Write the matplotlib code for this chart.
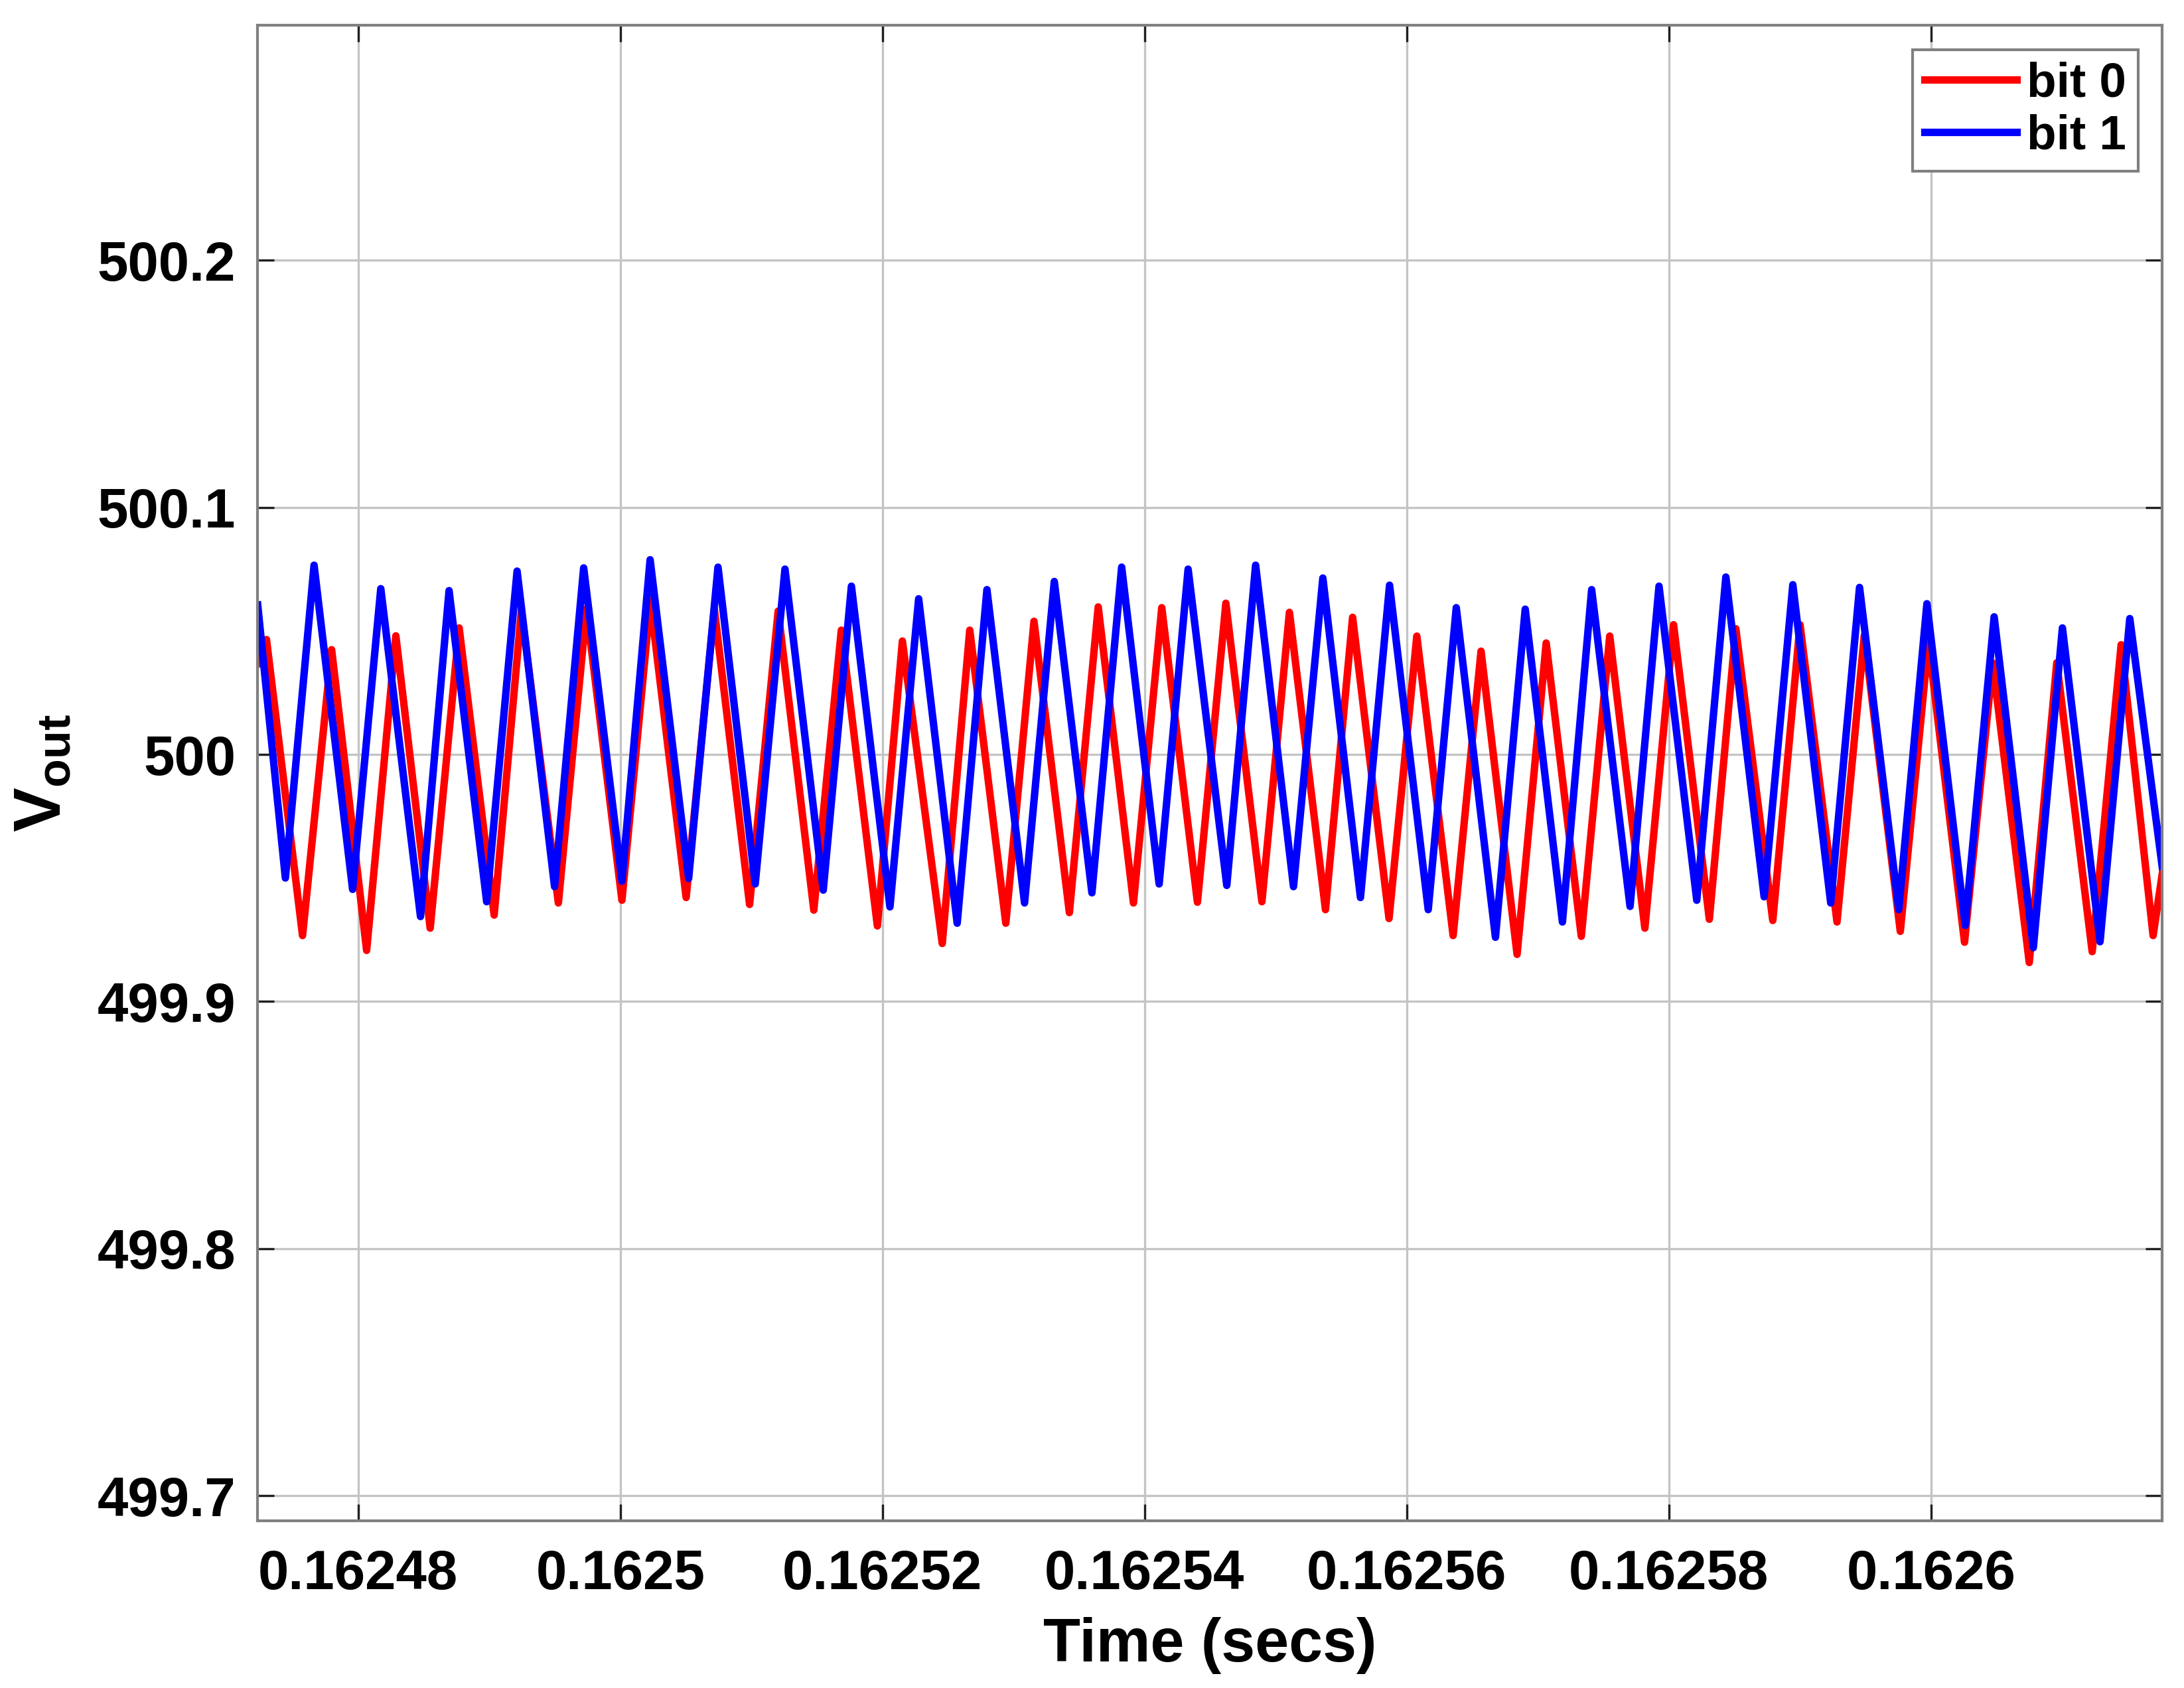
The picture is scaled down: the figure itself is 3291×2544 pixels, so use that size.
import matplotlib
matplotlib.use('Agg')
import matplotlib.pyplot as plt
import numpy as np

plt.rcParams.update({
    'font.family': ['Liberation Sans', 'DejaVu Sans'],
    'font.weight': 'bold',
    'font.size': 20,
    'mathtext.fontset': 'custom',
    'mathtext.rm': 'Liberation Sans:bold',
    'mathtext.bf': 'Liberation Sans:bold',
    'mathtext.it': 'Liberation Sans:bold',
})

# time offsets in microseconds from t0 (peaks and troughs)
t0 = 0.16248

bit0_t = [-7.67, -7.0, -4.25, -2.03, 0.64, 2.87, 5.49, 7.70, 10.37, 12.45,
          15.27, 17.42, 20.12, 22.29, 25.02, 27.17, 29.86, 32.04, 34.76, 36.86,
          39.61, 41.52, 44.56, 46.66, 49.41, 51.56, 54.26, 56.46, 59.15, 61.31,
          64.03, 66.20, 68.95, 71.05, 73.80, 75.87, 78.65, 80.77, 83.54, 85.67,
          88.42, 90.64, 93.32, 95.49, 98.17, 100.36, 103.09, 105.11, 107.93, 110.01,
          112.83, 114.91, 117.66, 119.81, 122.56, 124.71, 127.50, 129.60, 132.30, 134.51,
          136.95, 137.64]
bit0_v = [500.0370, 500.0465, 499.9267, 500.0424, 499.9207, 500.0480, 499.9297, 500.0512, 499.9350, 500.0583,
          499.9399, 500.0590, 499.9410, 500.0621, 499.9421, 500.0588, 499.9393, 500.0580, 499.9370, 500.0503,
          499.9306, 500.0459, 499.9235, 500.0503, 499.9317, 500.0539, 499.9360, 500.0597, 499.9399, 500.0594,
          499.9402, 500.0612, 499.9404, 500.0575, 499.9372, 500.0555, 499.9336, 500.0479, 499.9267, 500.0418,
          499.9191, 500.0451, 499.9264, 500.0479, 499.9297, 500.0525, 499.9333, 500.0509, 499.9328, 500.0525,
          499.9322, 500.0481, 499.9284, 500.0457, 499.9240, 500.0371, 499.9158, 500.0371, 499.9202, 500.0444,
          499.9267, 499.9514]

bit1_t = [-7.67, -5.56, -3.37, -0.43, 1.72, 4.75, 6.93, 9.80, 12.12, 14.98,
          17.20, 20.12, 22.27, 25.21, 27.45, 30.29, 32.56, 35.48, 37.63, 40.57,
          42.76, 45.70, 47.97, 50.84, 53.11, 55.98, 58.25, 61.11, 63.32, 66.27,
          68.47, 71.36, 73.60, 76.47, 78.69, 81.64, 83.78, 86.77, 89.04, 91.88,
          94.11, 97.04, 99.25, 102.13, 104.35, 107.27, 109.46, 112.35, 114.55, 117.54,
          119.69, 122.61, 124.82, 127.81, 130.03, 132.90, 135.17, 137.64]
bit1_v = [500.0605, 499.9500, 500.0766, 499.9454, 500.0671, 499.9344, 500.0663, 499.9404, 500.0742, 499.9465,
          500.0755, 499.9487, 500.0788, 499.9498, 500.0758, 499.9476, 500.0750, 499.9451, 500.0681, 499.9383,
          500.0630, 499.9317, 500.0667, 499.9399, 500.0700, 499.9440, 500.0758, 499.9476, 500.0750, 499.9470,
          500.0766, 499.9465, 500.0714, 499.9421, 500.0685, 499.9372, 500.0594, 499.9260, 500.0588, 499.9322,
          500.0667, 499.9385, 500.0681, 499.9410, 500.0718, 499.9424, 500.0687, 499.9399, 500.0676, 499.9372,
          500.0610, 499.9308, 500.0557, 499.9218, 500.0512, 499.9242, 500.0550, 499.9547]

x_ticks = [0.16248, 0.1625, 0.16252, 0.16254, 0.16256, 0.16258, 0.1626]
x_tick_labels = ['0.16248', '0.1625', '0.16252', '0.16254', '0.16256', '0.16258', '0.1626']
y_ticks = [499.7, 499.8, 499.9, 500.0, 500.1, 500.2]
y_tick_labels = ['499.7', '499.8', '499.9', '500', '500.1', '500.2']

time0 = t0 + np.array(bit0_t) * 1e-6
time1 = t0 + np.array(bit1_t) * 1e-6

fig = plt.figure(figsize=(10.97, 8.48), dpi=300)
ax = fig.add_axes([0.118, 0.099, 0.872, 0.886])

ax.plot(time0, bit0_v, color='#ff0000', lw=2.7, solid_joinstyle='round', label='bit 0')
ax.plot(time1, bit1_v, color='#0000ff', lw=2.7, solid_joinstyle='round', label='bit 1')

ax.set_xlim(time0.min(), time0.max())
ax.set_ylim(499.6898, 500.2951)
ax.set_xticks(x_ticks)
ax.set_xticklabels(x_tick_labels)
ax.set_yticks(y_ticks)
ax.set_yticklabels(y_tick_labels)

ax.grid(True, color='#c4c4c4', lw=0.8)
ax.set_axisbelow(True)
for s in ax.spines.values():
    s.set_color('#808080')
    s.set_linewidth(1.0)
ax.tick_params(direction='in', length=6, width=0.8, color='#202020',
               labelsize=20, pad=8, top=True, right=True)
ax.tick_params(axis='x', pad=10)

ax.set_xlabel('Time (secs)', fontsize=22, fontweight='bold', labelpad=6)
ax.set_ylabel(r'$\mathbf{V_{out}}$', fontsize=24, labelpad=8)

leg = ax.legend(loc='upper right', fontsize=17.5, frameon=True, fancybox=False,
                edgecolor='#808080', framealpha=1.0, borderaxespad=0.5,
                handlelength=1.9, handletextpad=0.2, labelspacing=0.15,
                borderpad=0.25)
leg.get_frame().set_linewidth(1.0)

plt.savefig('out.png', dpi=300)
